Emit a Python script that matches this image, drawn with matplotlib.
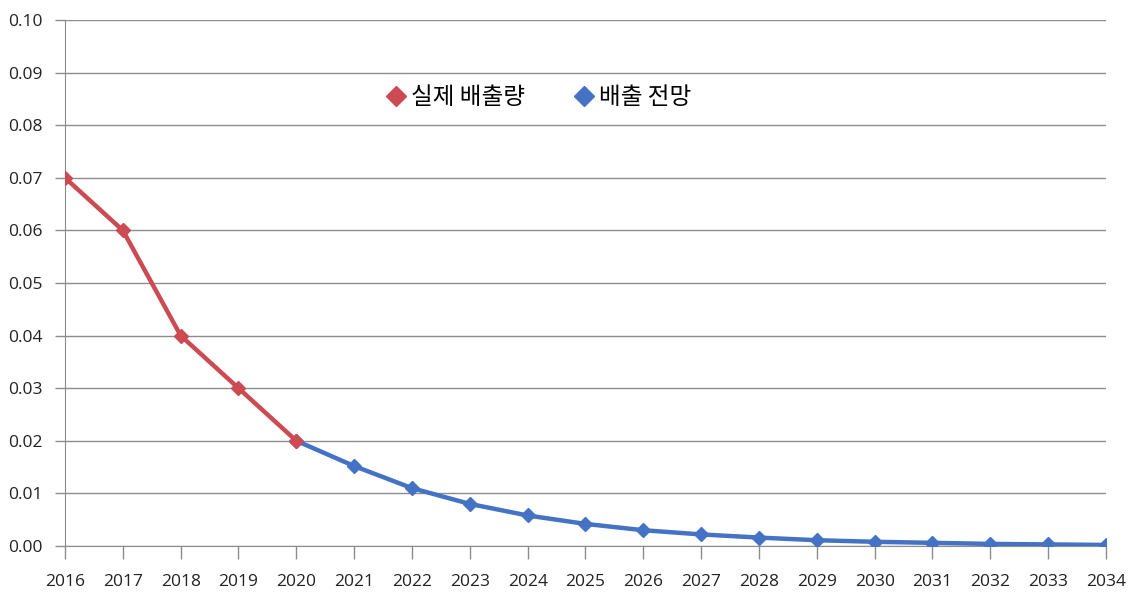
import matplotlib
matplotlib.use('Agg')
import matplotlib.pyplot as plt
from matplotlib.lines import Line2D
import numpy as np

plt.rcParams['font.family'] = ['Noto Sans CJK KR', 'DejaVu Sans']

# Data
actual_years = [2016, 2017, 2018, 2019, 2020]
actual_values = [0.07, 0.06, 0.04, 0.03, 0.02]

forecast_years = [2020, 2021, 2022, 2023, 2024, 2025, 2026, 2027, 2028,
                  2029, 2030, 2031, 2032, 2033, 2034]
forecast_values = [0.02, 0.0152, 0.011, 0.008, 0.0058, 0.0042, 0.003, 0.0022,
                   0.0016, 0.0011, 0.0008, 0.0006, 0.0004, 0.0003, 0.0002]

year_ticks = list(range(2016, 2035))
y_ticks = [0.00, 0.01, 0.02, 0.03, 0.04, 0.05, 0.06, 0.07, 0.08, 0.09, 0.10]

red = '#CC4A52'
blue = '#4472C4'

fig = plt.figure(figsize=(11.31, 5.92), dpi=100)
ax = fig.add_axes([65 / 1131, 46 / 592, 1041 / 1131, 526 / 592])

# gridlines
ax.set_yticks(y_ticks)
ax.set_yticklabels(['%.2f' % v for v in y_ticks], family='Open Sans')
ax.grid(axis='y', color='#8c8c8c', linewidth=1)
ax.set_axisbelow(True)

# forecast first so the 2020 point shows red
ax.plot(forecast_years, forecast_values, color=blue, linewidth=3.2,
        marker='D', markersize=7.5, zorder=3)
ax.plot(actual_years, actual_values, color=red, linewidth=3.2,
        marker='D', markersize=7.5, zorder=4)

ax.set_xlim(2016, 2034)
ax.set_ylim(0, 0.10)
ax.set_xticks(year_ticks)
ax.set_xticklabels([str(y) for y in year_ticks], family='Open Sans')

for s in ['top', 'right']:
    ax.spines[s].set_visible(False)
ax.spines['left'].set_color('#8c8c8c')
ax.spines['bottom'].set_color('#8c8c8c')
ax.spines['left'].set_zorder(1)
ax.spines['bottom'].set_zorder(1)

ax.tick_params(axis='y', length=7, width=1, color='#8c8c8c', pad=9,
               labelsize=12.5, labelcolor='#222222')
ax.tick_params(axis='x', length=9, width=1, color='#8c8c8c', pad=11,
               labelsize=12.5, labelcolor='#222222')

handles = [
    Line2D([], [], color=red, marker='D', linestyle='None', markersize=10),
    Line2D([], [], color=blue, marker='D', linestyle='None', markersize=10),
]
ax.legend(handles, ['실제 배출량', '배출 전망'], loc='center',
          bbox_to_anchor=(0.454, 0.852), ncol=2, frameon=False,
          fontsize=17, handletextpad=0.15, columnspacing=2.0,
          handlelength=1.0)

fig.savefig('out.png', dpi=100)
